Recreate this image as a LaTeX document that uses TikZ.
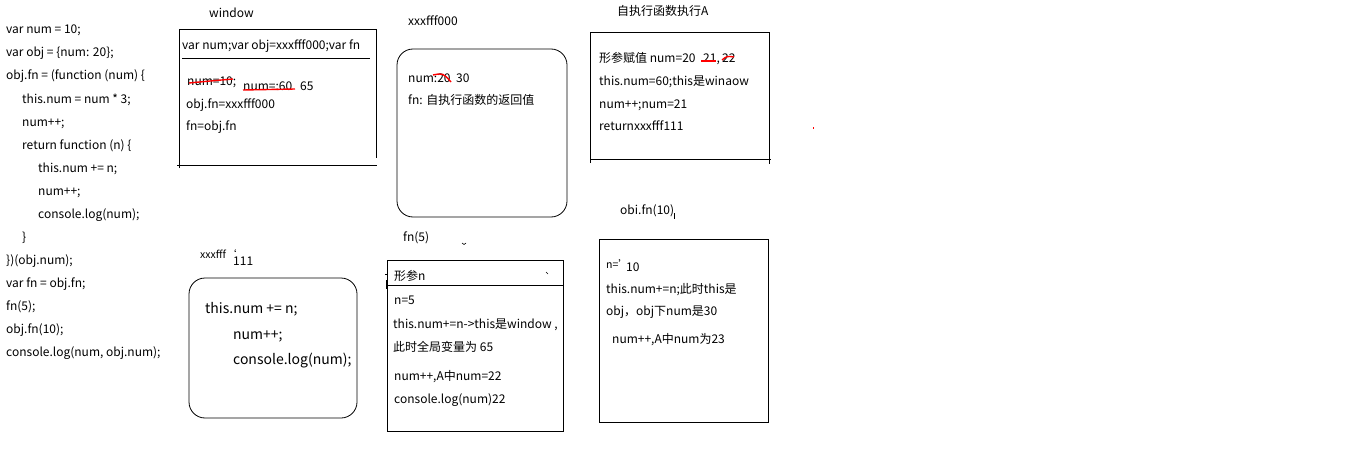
\documentclass[tikz,border=0pt]{standalone}
\usepackage{fontspec}
\setmainfont{Noto Sans CJK SC}
\begin{document}
\begin{tikzpicture}[x=1pt,y=-1pt,
  txt/.style={anchor=west,inner sep=0pt,font=\fontsize{12}{14}\selectfont,text height=8.5pt,text depth=2.5pt},
  big/.style={txt,font=\fontsize{14}{16}\selectfont,text height=10pt,text depth=3pt},
  sml/.style={txt,font=\fontsize{10.5}{12}\selectfont,text height=7pt,text depth=2pt},
  box/.style={draw=black,line width=0.8pt},
  strike/.style={draw=red,line width=1.4pt}]
\useasboundingbox (0,0) rectangle (1353,460);
% code
\node[txt] (c1) at (6,31) {var num = 10;};
\node[txt] (c2) at (6,54) {var obj = \{num: 20\};};
\node[txt] (c3) at (6,77) {obj.fn = (function (num) \{};
\node[txt] (c4) at (22,100) {this.num = num * 3;};
\node[txt] (c5) at (22,123) {num++;};
\node[txt] (c6) at (22,146) {return function (n) \{};
\node[txt] (c7) at (38,169) {this.num += n;};
\node[txt] (c8) at (38,192) {num++;};
\node[txt] (c9) at (38,215) {console.log(num);};
\node[txt] (c10) at (22,238) {\}};
\node[txt] (c11) at (6,261) {\})(obj.num);};
\node[txt] (c12) at (6,284) {var fn = obj.fn;};
\node[txt] (c13) at (6,307) {fn(5);};
\node[txt] (c14) at (6,330) {obj.fn(10);};
\node[txt] (c15) at (6,353) {console.log(num, obj.num);};
% window
\node[txt] (wl) at (209,15) {window};
\draw[box] (179,168) -- (179,29) -- (376,29) -- (376,158);
\draw[box] (177,165) -- (377,165);
\draw[box] (182,58) -- (370,58);
\node[txt] (w0) at (182,47) {var num;var obj=xxxfff000;var fn};
\node[txt] (w1) at (187,83) {num=10;};
\draw[strike] (189,83) .. controls (210,81) .. (233,79);
\node[txt] (w2) at (243,88) {num=:60};
\draw[strike] (243,90) -- (295,89);
\node[txt] (w3) at (300,88) {65};
\node[txt] (w4) at (186,106) {obj.fn=xxxfff000};
\node[txt] (w5) at (186,128) {fn=obj.fn};
% xxxfff000
\node[txt] (ol) at (408,23) {xxxfff000};
\draw[box,rounded corners=16pt] (397,49) rectangle (567,217);
\node[txt] (o1) at (408,79) {num:20};
\draw[strike] (433,75) .. controls (443,73) .. (451,82);
\node[txt] (o2) at (456,79) {30};
\node[txt] (o3) at (408,102) {fn: 自执行函数的返回值};
% A
\node[txt] (al) at (617,13) {自执行函数执行A};
\draw[box] (590,163) -- (590,32) -- (769,32) -- (769,164);
\draw[box] (590,159) -- (771,159);
\node[txt] (a1) at (599,60) {形参赋值 num=20};
\node[txt] (a1b) at (703,60) {21,};
\node[txt] (a1c) at (722,60) {22};
\draw[strike] (701,61) -- (716,61);
\draw[strike] (722,60) .. controls (727,56) .. (734,57);
\node[txt] (a2) at (599,83) {this.num=60;this是winaow};
\node[txt] (a3) at (599,106) {num++;num=21};
\node[txt] (a4) at (599,128) {returnxxxfff111};
\fill[red] (812.5,127) rectangle (814,129);
% xxxfff111
\node[sml] (fl) at (200,256) {xxxfff`};
\node[txt] (fl2) at (233,262) {111};
\draw[box,rounded corners=16pt] (189,278) rectangle (357,418);
\node[big] (f1) at (205,310) {this.num += n;};
\node[big] (f2) at (233,336) {num++;};
\node[big] (f3) at (233,361) {console.log(num);};
% fn(5)
\node[txt] (gl) at (403,238) {fn(5)};
\draw[line width=0.6pt] (462,243) .. controls (464,245) .. (466,243);
\draw[box] (387,260) rectangle (563,431);
\draw[box] (387,285) -- (563,285);
\draw[line width=0.6pt] (385,274) -- (388,274);
\draw[line width=0.6pt] (386,280) -- (386,289);
\node[txt] (g0) at (394,277) {形参n};
\draw[line width=0.6pt] (546,272) -- (548,274);
\node[txt] (g1) at (394,301) {n=5};
\node[txt] (g2) at (393,325) {this.num+=n->this是window ,};
\node[txt] (g3) at (393,348) {此时全局变量为 65};
\node[txt] (g4) at (394,377) {num++,A中num=22};
\node[txt] (g5) at (394,400) {console.log(num)22};
% obj.fn(10)
\node[txt] (hl) at (620,211) {obi.fn(10)};
\draw[line width=0.6pt] (674,213) -- (674,219);
\draw[box] (599,239) rectangle (768,422);
\node[sml] (h0) at (606,266) {n='};
\node[txt] (h1) at (626,268) {10};
\node[txt] (h2) at (606,290) {this.num+=n;此时this是};
\node[txt] (h3) at (606,312) {obj，obj下num是30};
\node[txt] (h4) at (612,340) {num++,A中num为23};
\end{tikzpicture}
\end{document}
